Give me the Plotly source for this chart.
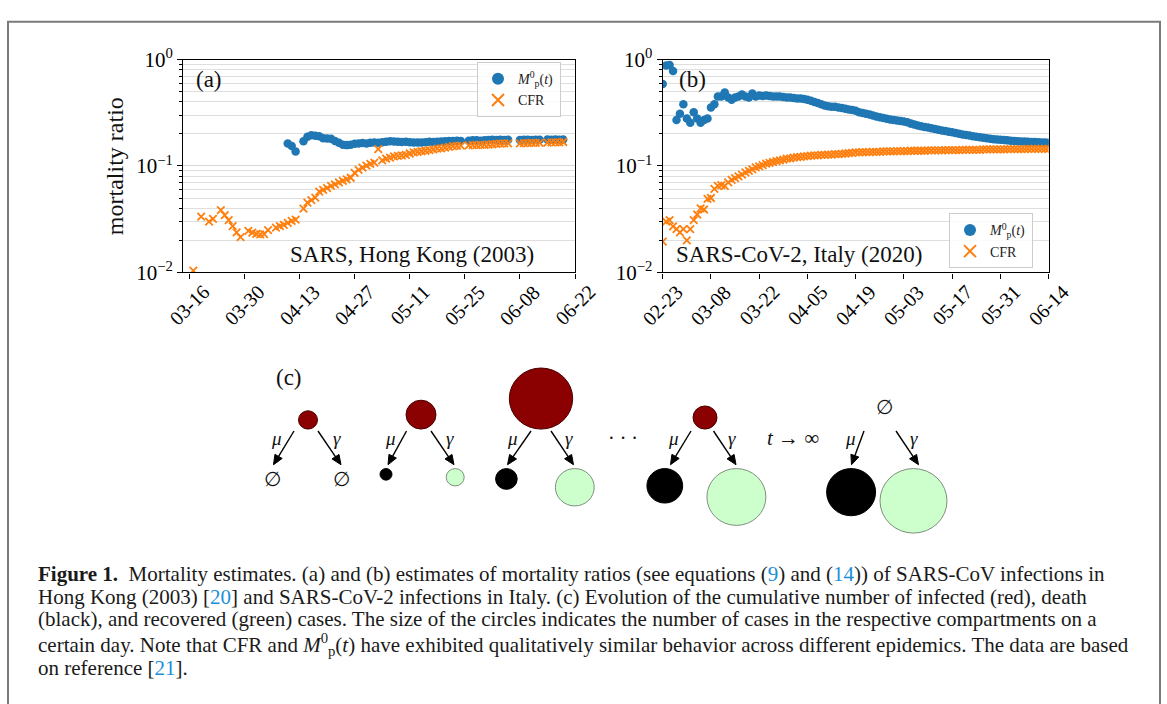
import math
import pandas as pd
import plotly.graph_objects as go

W, H = 1167, 704


def px(x):
    return x / W


def py(y):
    return 1 - y / H


SERIF = "Liberation Serif, Times New Roman, serif"
BLUE = "#1f77b4"
ORANGE = "#ff7f0e"
LINK = "#1a8fd8"

# ---------------- data: panel (a) SARS, Hong Kong 2003 (day offsets from 03-16) ----------------
a_start = "2003-03-16"
a_cfr_day = [1, 3, 5, 6, 8, 9, 10, 11, 12, 13,
             15, 16, 17, 18, 19, 20, 22, 23, 24, 25,
             26, 27, 29, 30, 31, 32, 33, 34, 35, 36,
             37, 38, 39, 40, 41, 42, 43, 44, 45, 46,
             47, 48, 49, 50, 51, 52, 53, 54, 55, 56,
             57, 58, 59, 60, 61, 62, 63, 64, 65, 66,
             67, 68, 69, 71, 72, 73, 74, 75, 76, 77,
             78, 79, 80, 81, 84, 85, 86, 87, 88, 89,
             91, 92, 93, 94, 95]
a_cfr_val = [0.0104, 0.0335, 0.0300, 0.0318, 0.0385, 0.0345, 0.0310, 0.0272, 0.0238, 0.0214,
             0.0246, 0.0236, 0.0230, 0.0228, 0.0229, 0.0250, 0.0264, 0.0272, 0.0280, 0.0292,
             0.0305, 0.0313, 0.0398, 0.0452, 0.0478, 0.0505, 0.0575, 0.0595, 0.0620, 0.0650,
             0.0670, 0.0700, 0.0725, 0.0750, 0.0775, 0.0860, 0.0920, 0.0965, 0.1010, 0.1045,
             0.1075, 0.1440, 0.1130, 0.1170, 0.1200, 0.1230, 0.1245, 0.1255, 0.1270, 0.1310,
             0.1340, 0.1360, 0.1375, 0.1390, 0.1410, 0.1430, 0.1455, 0.1465, 0.1490, 0.1515,
             0.1535, 0.1545, 0.1550, 0.156, 0.157, 0.157, 0.158, 0.158, 0.159, 0.160,
             0.161, 0.162, 0.163, 0.163, 0.163, 0.164, 0.164, 0.165, 0.165, 0.165,
             0.166, 0.167, 0.167, 0.167, 0.168]
a_m_day = [25, 26, 27, 29, 30, 31, 32, 33, 34, 35,
           36, 37, 38, 39, 40, 41, 42, 43, 44, 45,
           46, 47, 48, 49, 50, 51, 52, 53, 54, 55,
           56, 57, 58, 59, 60, 61, 62, 63, 64, 65,
           66, 67, 68, 69, 71, 72, 73, 74, 75, 76,
           77, 78, 79, 80, 81, 84, 85, 86, 87, 88,
           89, 91, 92, 93, 94, 95]
a_m_val = [0.163, 0.154, 0.137, 0.171, 0.188, 0.194, 0.192, 0.190, 0.182, 0.181,
           0.180, 0.172, 0.165, 0.158, 0.157, 0.158, 0.162, 0.163, 0.164, 0.163,
           0.165, 0.166, 0.165, 0.167, 0.169, 0.171, 0.170, 0.169, 0.168, 0.169,
           0.167, 0.166, 0.166, 0.166, 0.167, 0.169, 0.168, 0.169, 0.170, 0.171,
           0.172, 0.172, 0.173, 0.172, 0.173, 0.174, 0.174, 0.173, 0.174, 0.175,
           0.176, 0.175, 0.176, 0.175, 0.176, 0.175, 0.176, 0.176, 0.175, 0.176,
           0.176, 0.177, 0.176, 0.177, 0.176, 0.177]
a_ticks = ["03-16", "03-30", "04-13", "04-27", "05-11", "05-25", "06-08", "06-22"]

# ---------------- data: panel (b) SARS-CoV-2, Italy 2020 (daily from 02-23) ----------------
b_start = "2020-02-23"
b_m_val = [0.59, 0.88, 0.89, 0.78, 0.27, 0.31, 0.38, 0.28, 0.255, 0.32,
           0.28, 0.255, 0.27, 0.28, 0.355, 0.38, 0.45, 0.45, 0.49, 0.44,
           0.42, 0.44, 0.45, 0.47, 0.45, 0.44, 0.48, 0.45, 0.46, 0.455,
           0.46, 0.455, 0.45, 0.45, 0.45, 0.445, 0.44, 0.44, 0.435, 0.43,
           0.43, 0.425, 0.42, 0.41, 0.40, 0.39, 0.38, 0.37, 0.365, 0.36,
           0.36, 0.355, 0.35, 0.345, 0.34, 0.335, 0.33, 0.32, 0.315, 0.31,
           0.305, 0.298, 0.292, 0.287, 0.283, 0.278, 0.273, 0.27, 0.268, 0.265,
           0.262, 0.258, 0.25, 0.245, 0.24, 0.236, 0.233, 0.23, 0.226, 0.222,
           0.219, 0.216, 0.213, 0.21, 0.207, 0.204, 0.201, 0.198, 0.195, 0.193,
           0.19, 0.188, 0.186, 0.184, 0.182, 0.18, 0.178, 0.177, 0.176, 0.175,
           0.174, 0.173, 0.172, 0.171, 0.17, 0.17, 0.169, 0.168, 0.168, 0.167,
           0.166, 0.166, 0.165]
b_cfr_val = [0.0195, 0.030, 0.031, 0.027, 0.0255, 0.0238, 0.0255, 0.020, 0.0255, 0.031,
             0.035, 0.040, 0.039, 0.049, 0.050, 0.061, 0.065, 0.066, 0.065, 0.070,
             0.074, 0.077, 0.080, 0.083, 0.087, 0.090, 0.093, 0.097, 0.099, 0.102,
             0.105, 0.107, 0.109, 0.111, 0.113, 0.115, 0.117, 0.118, 0.120, 0.121,
             0.122, 0.123, 0.124, 0.125, 0.1255, 0.126, 0.127, 0.127, 0.128, 0.128,
             0.129, 0.129, 0.130, 0.131, 0.132, 0.133, 0.134, 0.134, 0.135, 0.135,
             0.135, 0.136, 0.136, 0.136, 0.137, 0.137, 0.137, 0.137, 0.138, 0.138,
             0.138, 0.138, 0.139, 0.139, 0.139, 0.139, 0.139, 0.140, 0.140, 0.140,
             0.140, 0.140, 0.141, 0.141, 0.141, 0.141, 0.141, 0.142, 0.142, 0.142,
             0.142, 0.142, 0.142, 0.143, 0.143, 0.143, 0.143, 0.143, 0.143, 0.143,
             0.144, 0.144, 0.144, 0.144, 0.144, 0.144, 0.145, 0.145, 0.145, 0.145,
             0.145, 0.145, 0.145]
b_ticks = ["02-23", "03-08", "03-22", "04-05", "04-19", "05-03", "05-17", "05-31", "06-14"]

# ---------------- schematic (c): relative compartment sizes (circle radii) ----------------
infected_r = [9.5, 15.0, 31.7, 12.0, 0.0]
death_r = [0.0, 6.0, 10.8, 17.9, 24.5]
recovered_r = [0.0, 9.0, 19.4, 29.5, 33.5]

M_LABEL = "<i>M</i><sup>0</sup><sub>p</sub>(<i>t</i>)"

# ---------------- figure ----------------
a_x_cfr = pd.to_datetime(a_start) + pd.to_timedelta(a_cfr_day, unit="D")
a_x_m = pd.to_datetime(a_start) + pd.to_timedelta(a_m_day, unit="D")
b_x = pd.date_range(b_start, periods=len(b_m_val), freq="D")

fig = go.Figure()

dot = dict(color=BLUE, size=8.5)
cross = dict(symbol="x-thin", size=7.5, color=ORANGE, line=dict(color=ORANGE, width=1.8))

fig.add_trace(go.Scatter(x=a_x_m, y=a_m_val, mode="markers", marker=dot, name=M_LABEL,
                         legend="legend", xaxis="x", yaxis="y"))
fig.add_trace(go.Scatter(x=a_x_cfr, y=a_cfr_val, mode="markers", marker=cross, name="CFR",
                         legend="legend", xaxis="x", yaxis="y"))
fig.add_trace(go.Scatter(x=b_x, y=b_m_val, mode="markers", marker=dot, name=M_LABEL,
                         legend="legend2", xaxis="x2", yaxis="y2"))
fig.add_trace(go.Scatter(x=b_x, y=b_cfr_val, mode="markers", marker=cross, name="CFR",
                         legend="legend2", xaxis="x2", yaxis="y2"))

minor_vals = [m * 10 ** e for e in (-2, -1) for m in range(2, 10)]

YTICKFONT = dict(family=SERIF, size=21, color="black")
XTICKFONT = dict(family=SERIF, size=20, color="black")


def yaxis_cfg(anchor):
    return dict(
        domain=[py(268.3), py(47.3)], anchor=anchor, type="log", range=[-2, 0],
        tickmode="array", tickvals=[0.01, 0.1, 1],
        ticktext=["10<sup>\u22122</sup>", "10<sup>\u22121</sup>", "10<sup>0</sup>"],
        ticks="outside", ticklen=5, tickwidth=1.2, tickcolor="black",
        showline=True, linecolor="black", linewidth=1.3, mirror=True,
        showgrid=True, gridcolor="#d6d6d6", gridwidth=1,
        minor=dict(tickmode="array", tickvals=minor_vals, ticks="outside", ticklen=3,
                   tickwidth=1, tickcolor="black", showgrid=True, gridcolor="#dedede", gridwidth=1),
        tickfont=YTICKFONT, zeroline=False,
    )


def xaxis_cfg(anchor, dom, rng, tickdates):
    return dict(
        domain=dom, anchor=anchor, type="date", range=rng,
        tickmode="array", tickvals=tickdates, showticklabels=False,
        ticks="outside", ticklen=5, tickwidth=1.2, tickcolor="black",
        showline=True, linecolor="black", linewidth=1.3, mirror=True,
        showgrid=False, zeroline=False,
    )


a_tickdates = ["2003-" + t for t in a_ticks]
b_tickdates = ["2020-" + t for t in b_ticks]

legend_style = dict(bgcolor="rgba(255,255,255,0.85)", bordercolor="#cccccc", borderwidth=1,
                    font=dict(family=SERIF, size=14, color="#222"),
                    xanchor="left", yanchor="top", tracegroupgap=0, itemsizing="constant")

fig.update_layout(
    width=W, height=H, margin=dict(l=0, r=0, t=0, b=0),
    paper_bgcolor="white", plot_bgcolor="white",
    xaxis=xaxis_cfg("y", [px(183.3), px(575)], ["2003-03-14 11:00", "2003-06-22"], a_tickdates),
    yaxis=yaxis_cfg("x"),
    xaxis2=xaxis_cfg("y2", [px(662.7), px(1048.7)], ["2020-02-23", "2020-06-14"], b_tickdates),
    yaxis2=yaxis_cfg("x2"),
    legend=dict(x=px(477), y=py(50), **legend_style),
    legend2=dict(x=px(949), y=py(207), **legend_style),
    showlegend=True,
)

ann = []


def note(x, y, text, font, xanchor="center", yanchor="middle", **kw):
    d = dict(x=px(x), y=py(y), xref="paper", yref="paper", text=text, showarrow=False,
             font=font, xanchor=xanchor, yanchor=yanchor)
    d.update(kw)
    ann.append(d)


# rotated date tick labels (centred on the tick, as in the original)
for t, d in zip(a_ticks, a_tickdates):
    ann.append(dict(x=d, xref="x", y=py(302), yref="paper", text=t, textangle=-45,
                    showarrow=False, font=XTICKFONT, xanchor="center", yanchor="middle"))
for t, d in zip(b_ticks, b_tickdates):
    ann.append(dict(x=d, xref="x2", y=py(302), yref="paper", text=t, textangle=-45,
                    showarrow=False, font=XTICKFONT, xanchor="center", yanchor="middle"))

BIG = dict(family=SERIF, size=23, color="#111")
note(115, 158, "mortality ratio", dict(family=SERIF, size=24, color="#111"), textangle=-90)
note(208.5, 68, "(a)", BIG)
note(692, 68, "(b)", BIG)
note(536, 250, "SARS, Hong Kong (2003)", BIG, xanchor="right")
note(674, 250, "SARS-CoV-2, Italy (2020)", BIG, xanchor="left")

# ---------------- schematic (c) ----------------
shapes = []
SMALL = dict(family=SERIF, size=20, color="#111")
GREEK = dict(family=SERIF, size=19, color="#111")

group_x = [308, 421, 541, 705, 884]          # centre of the top node
left_head = [273.5, 388, 507.5, 670.5, 851.5]
right_head = [341, 454, 573.5, 736, 918.5]
left_tail = [294, 406.5, 531, 691, 864]
right_tail = [318, 431, 551, 713.5, 896]
death_x = [272.6, 386, 506.4, 664.8, 851.1]
recov_x = [341.7, 455.2, 574.8, 736.4, 913.5]


def circle(cx, cy, r, fill, edge):
    return dict(type="circle", xref="paper", yref="paper", layer="above",
                x0=px(cx - r), x1=px(cx + r), y0=py(cy + r), y1=py(cy - r),
                fillcolor=fill, line=dict(color=edge, width=1))


def arrow(tx, ty, hx, hy, hl=10.0, hw=4.2):
    dx, dy = hx - tx, hy - ty
    L = math.hypot(dx, dy)
    ux, uy = dx / L, dy / L
    bx, by = hx - ux * hl, hy - uy * hl
    nx, ny = -uy, ux
    shapes.append(dict(type="line", xref="paper", yref="paper", layer="above",
                       x0=px(tx), y0=py(ty), x1=px(bx + ux * 2), y1=py(by + uy * 2),
                       line=dict(color="black", width=1.4)))
    pts = [(hx, hy), (bx + nx * hw, by + ny * hw), (bx - nx * hw, by - ny * hw)]
    path = "M " + " L ".join("%.5f,%.5f" % (px(a), py(b)) for a, b in pts) + " Z"
    shapes.append(dict(type="path", xref="paper", yref="paper", layer="above", path=path,
                       fillcolor="black", line=dict(color="black", width=1)))


for i, g in enumerate(group_x):
    if infected_r[i] > 0:
        shapes.append(circle(g, 431 - infected_r[i], infected_r[i], "#8b0000", "#4a0000"))
    else:
        note(g, 408, "\u2205", SMALL)
    if death_r[i] > 0:
        shapes.append(circle(death_x[i], 472 + death_r[i], death_r[i], "#000000", "#000000"))
    else:
        note(death_x[i], 483, "\u2205", SMALL)
    if recovered_r[i] > 0:
        shapes.append(circle(recov_x[i], 472 + recovered_r[i], recovered_r[i], "#ccffcc", "#7f8f7f"))
    else:
        note(recov_x[i], 483, "\u2205", SMALL)
    arrow(left_tail[i], 433, left_head[i], 468)
    arrow(right_tail[i], 433, right_head[i], 468)
    mx = (left_tail[i] + left_head[i]) / 2 - 7
    gx = (right_tail[i] + right_head[i]) / 2 + 7
    note(mx, 441, "<i>\u03bc</i>", GREEK)
    note(gx, 441, "<i>\u03b3</i>", GREEK)

note(289, 377, "(c)", BIG)
note(623, 440, "\u00b7 \u00b7 \u00b7", SMALL)
note(793, 440, "<i>t</i> \u2192 \u221e", dict(family=SERIF, size=21, color="#111"))

# ---------------- caption ----------------
def link(s):
    return "<span style='color:%s'>%s</span>" % (LINK, s)


caption = [
    "<b>Figure 1.</b>\u00a0\u00a0Mortality estimates. (a) and (b) estimates of mortality ratios (see equations ("
    + link("9") + ") and (" + link("14") + ")) of SARS-CoV infections in",
    "Hong Kong (2003) [" + link("20") + "] and SARS-CoV-2 infections in Italy. (c) Evolution of the cumulative number of infected (red), death",
    "(black), and recovered (green) cases. The size of the circles indicates the number of cases in the respective compartments on a",
    "certain day. Note that CFR and " + M_LABEL
    + " have exhibited qualitatively similar behavior across different epidemics. The data are based",
    "on reference [" + link("21") + "].",
]
cap_y = [581, 605, 628, 655, 679]
CAPFONT = dict(family=SERIF, size=21, color="#1a1a1a")
for line, yy in zip(caption, cap_y):
    note(36, yy, line, CAPFONT, xanchor="left")

# outer frame
shapes.append(dict(type="rect", xref="paper", yref="paper", x0=px(8), x1=px(1160), y0=py(730), y1=py(8),
                   line=dict(color="#7a7a7a", width=2), fillcolor="rgba(0,0,0,0)", layer="below"))

fig.update_layout(annotations=ann, shapes=shapes)
fig.write_html("out.html")
